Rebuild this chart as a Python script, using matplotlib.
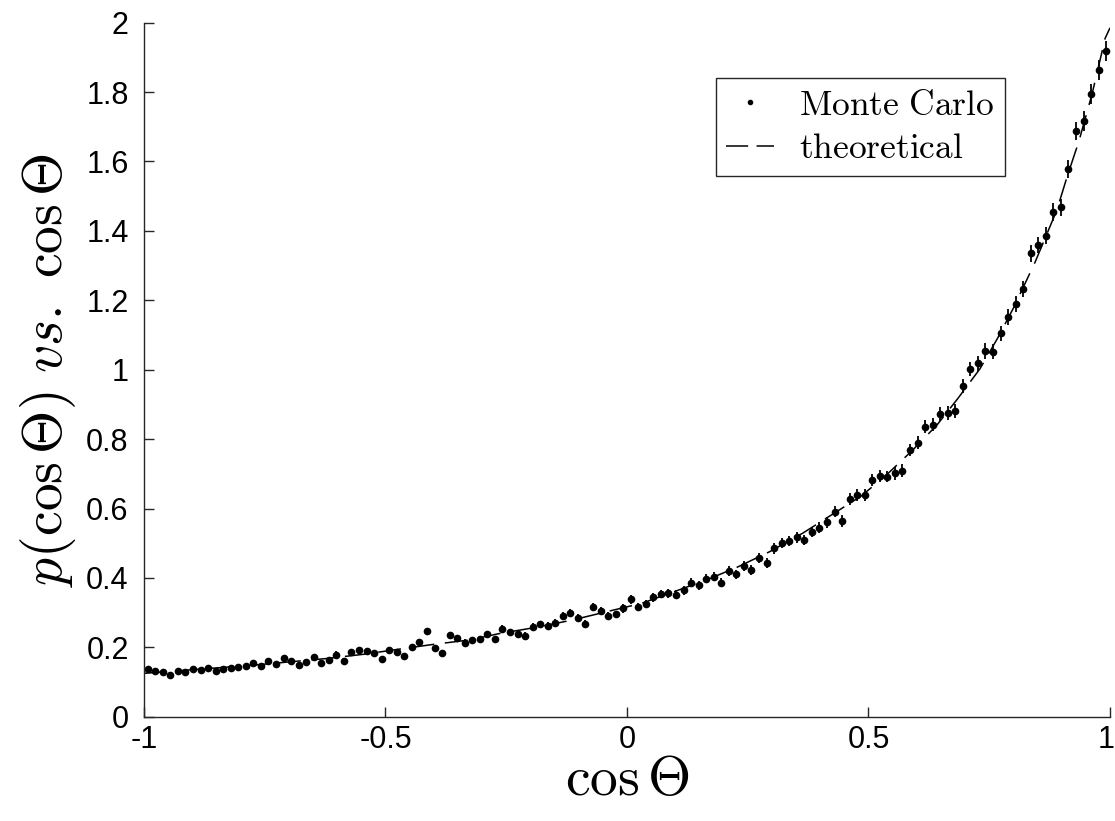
import numpy as np
import matplotlib
matplotlib.use("Agg")
import matplotlib.pyplot as plt
import matplotlib.transforms as mtransforms
from matplotlib.lines import Line2D

plt.rcParams["mathtext.fontset"] = "cm"
plt.rcParams["font.family"] = ["Liberation Sans", "DejaVu Sans"]

# 128 bins on cos(theta), centres of each bin
n_bins = 128
cos_bins = np.linspace(-1 + 1 / n_bins, 1 - 1 / n_bins, n_bins)

# Monte Carlo histogram
mc_values = [
    0.137, 0.131, 0.128, 0.120, 0.132, 0.129, 0.138, 0.134, 0.141, 0.132, 0.138,
    0.139, 0.142, 0.146, 0.156, 0.146, 0.161, 0.152, 0.168, 0.161, 0.149, 0.159,
    0.173, 0.154, 0.163, 0.179, 0.160, 0.187, 0.191, 0.188, 0.183, 0.167, 0.192,
    0.187, 0.176, 0.202, 0.214, 0.246, 0.199, 0.183, 0.235, 0.226, 0.213, 0.221,
    0.224, 0.237, 0.223, 0.252, 0.243, 0.238, 0.233, 0.259, 0.266, 0.261, 0.271,
    0.290, 0.298, 0.284, 0.267, 0.317, 0.305, 0.291, 0.295, 0.312,
    0.338, 0.317, 0.324, 0.344, 0.354, 0.356, 0.351, 0.365, 0.386, 0.379, 0.398,
    0.403, 0.386, 0.420, 0.410, 0.435, 0.423, 0.458, 0.442, 0.485, 0.500, 0.507,
    0.517, 0.509, 0.533, 0.545, 0.560, 0.591, 0.564, 0.627, 0.639, 0.639,
    0.682, 0.694, 0.692, 0.701, 0.709, 0.769, 0.790, 0.836, 0.841, 0.872, 0.874,
    0.882, 0.953, 1.002, 1.018, 1.054, 1.052, 1.105, 1.153, 1.189, 1.232, 1.335,
    1.359, 1.386, 1.454, 1.468, 1.578, 1.688, 1.717, 1.794, 1.864, 1.919,
]

mc_errors = [
    0.008, 0.008, 0.008, 0.007, 0.008, 0.008, 0.008, 0.008, 0.008, 0.008, 0.008,
    0.008, 0.008, 0.008, 0.008, 0.008, 0.008, 0.008, 0.009, 0.008, 0.008, 0.008,
    0.009, 0.008, 0.008, 0.009, 0.008, 0.009, 0.009, 0.009, 0.009, 0.009, 0.009,
    0.009, 0.009, 0.009, 0.010, 0.010, 0.009, 0.009, 0.010, 0.010, 0.010, 0.010,
    0.010, 0.010, 0.010, 0.011, 0.010, 0.010, 0.010, 0.011, 0.011, 0.011, 0.011,
    0.011, 0.011, 0.011, 0.011, 0.012, 0.012, 0.011, 0.011, 0.012,
    0.012, 0.012, 0.012, 0.012, 0.012, 0.013, 0.013, 0.013, 0.013, 0.013, 0.013,
    0.013, 0.013, 0.014, 0.013, 0.014, 0.014, 0.014, 0.014, 0.015, 0.015, 0.015,
    0.015, 0.015, 0.015, 0.016, 0.016, 0.016, 0.016, 0.017, 0.017, 0.017,
    0.017, 0.017, 0.017, 0.018, 0.018, 0.018, 0.019, 0.019, 0.019, 0.020, 0.020,
    0.020, 0.020, 0.021, 0.021, 0.022, 0.022, 0.022, 0.023, 0.023, 0.023, 0.024,
    0.024, 0.025, 0.025, 0.025, 0.026, 0.027, 0.028, 0.028, 0.029, 0.029,
]

# theoretical curve
theory_x = [-1.0, -0.77, -0.62, -0.545, -0.47, -0.398, -0.327, -0.263, -0.186,
            -0.112, -0.041, 0.031, 0.097, 0.166, 0.230, 0.296, 0.364, 0.424,
            0.484, 0.536, 0.592, 0.642, 0.685, 0.731, 0.767, 0.801, 0.845,
            0.890, 0.911, 0.936, 0.963, 0.990, 1.0]
theory_y = [0.125, 0.149, 0.168, 0.180, 0.195, 0.209, 0.221, 0.240, 0.258,
            0.279, 0.303, 0.327, 0.360, 0.395, 0.432, 0.476, 0.529, 0.582,
            0.635, 0.695, 0.769, 0.841, 0.917, 1.003, 1.090, 1.180, 1.310,
            1.460, 1.555, 1.660, 1.795, 1.955, 1.985]

x_ticks = [-1, -0.5, 0, 0.5, 1]
y_ticks = [0, 0.2, 0.4, 0.6, 0.8, 1, 1.2, 1.4, 1.6, 1.8, 2]

axis_color = "#262626"
dash_style = (0, (15, 7))

fig = plt.figure(figsize=(11.15, 8.21), dpi=100)
ax = fig.add_axes([0.1291, 0.1270, 0.8664, 0.8454])

# Monte Carlo points with error bars
ax.errorbar(cos_bins, mc_values, yerr=mc_errors, fmt="o", color="k",
            ms=4.5, elinewidth=1.3, capsize=0)

# theoretical curve
ax.plot(theory_x, theory_y, color="k", linewidth=1.1, linestyle=dash_style)

ax.set_xlim(-1, 1)
ax.set_ylim(0, 2)
ax.set_xticks(x_ticks)
ax.set_yticks(y_ticks)
ax.set_xticklabels([f"{v:g}" for v in x_ticks])
ax.set_yticklabels([f"{v:g}" for v in y_ticks])

ax.spines["top"].set_visible(False)
ax.spines["right"].set_visible(False)
for side in ["left", "bottom"]:
    ax.spines[side].set_color(axis_color)
    ax.spines[side].set_linewidth(1.0)

ax.tick_params(axis="both", direction="in", length=7, width=1.0,
               color=axis_color, labelsize=22, labelcolor="k")
ax.tick_params(axis="y", pad=11)
ax.tick_params(axis="x", pad=6)

# the last x tick label sits at the figure edge, nudge it left a little
last_label = ax.get_xticklabels()[-1]
last_label.set_transform(last_label.get_transform() +
                         mtransforms.ScaledTranslation(-4 / 100, 0, fig.dpi_scale_trans))

ax.set_xlabel(r"$\cos\Theta$", fontsize=40, labelpad=0)
ax.set_ylabel(r"$p(\cos\Theta)\ vs.\ \cos\Theta$", fontsize=40, labelpad=6)

# legend with proxy handles (dot + two dashes)
handles = [
    Line2D([], [], color="k", marker=".", markersize=6, linestyle="none"),
    Line2D([], [], color="k", linewidth=1.1, linestyle=(0, (14.5, 5.5))),
]
labels = [r"$\mathrm{Monte\ Carlo}$", r"$\mathrm{theoretical}$"]
legend = ax.legend(handles, labels, loc="upper right",
                   bbox_to_anchor=(1005 / 1115, 1 - 78 / 821),
                   bbox_transform=fig.transFigure, borderaxespad=0,
                   fontsize=25.5, fancybox=False, framealpha=1,
                   edgecolor=axis_color, handlelength=1.35,
                   handletextpad=0.7, labelspacing=0.3, borderpad=0.3)
legend.get_frame().set_linewidth(1.0)

plt.savefig("out.png", dpi=100)
plt.close(fig)
